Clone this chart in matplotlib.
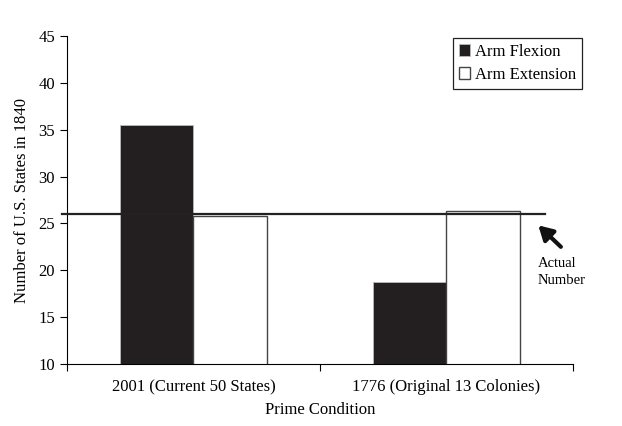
import matplotlib.pyplot as plt
import numpy as np

categories = ["2001 (Current 50 States)", "1776 (Original 13 Colonies)"]
flexion = [35.5, 18.7]
extension = [25.8, 26.3]
actual_number = 26

plt.rcParams['font.family'] = ['Liberation Serif', 'DejaVu Serif']
plt.rcParams['font.size'] = 12

fig = plt.figure(figsize=(6.22, 4.26), dpi=100)
ax = fig.add_axes([0.1077, 0.1455, 0.8135, 0.77])

x = np.arange(len(categories))
w = 0.289
ax.bar(x - w / 2, flexion, w, bottom=0, color='#231f20', edgecolor='#bbbbbb',
       linewidth=0.6, label='Arm Flexion', zorder=2)
ax.bar(x + w / 2, extension, w, color='white', edgecolor='#444444',
       linewidth=1.0, label='Arm Extension', zorder=2)

# reference line for the actual number
ax.plot([-0.52, 1.39], [actual_number, actual_number], color='#222222',
        linewidth=1.6, clip_on=False, zorder=3)
ax.annotate('', xy=(1.355, 25.0), xytext=(1.46, 22.3),
            arrowprops=dict(arrowstyle='-|>,head_width=0.4,head_length=0.7',
                            color='#111111', lw=3), annotation_clip=False)
ax.text(1.36, 21.4, 'Actual\nNumber', fontsize=10.5, va='top', ha='left',
        linespacing=1.4)

ax.set_xlim(-0.5, 1.5)
ax.set_ylim(10, 45)
ax.set_yticks(range(10, 46, 5))
ax.set_xticks([-0.5, 0.5, 1.5], minor=False)
ax.set_xticklabels([])
ax.set_xticks(x, minor=True)
ax.set_xticklabels(categories, minor=True)
ax.tick_params(axis='x', which='minor', length=0, pad=11)
ax.tick_params(axis='x', which='major', length=5, direction='out')
ax.tick_params(axis='y', length=5, direction='out')
for s in ['top', 'right']:
    ax.spines[s].set_visible(False)

ax.set_xlabel('Prime Condition', labelpad=5)
ax.set_ylabel('Number of U.S. States in 1840', labelpad=6)

leg = ax.legend(loc='upper right', bbox_to_anchor=(1.035, 1.02), fancybox=False,
                edgecolor='#222222', framealpha=1, handlelength=0.7,
                handleheight=0.7, handletextpad=0.3, borderpad=0.35,
                labelspacing=0.45)
leg.get_frame().set_linewidth(0.9)

fig.savefig('out.png', dpi=100)
